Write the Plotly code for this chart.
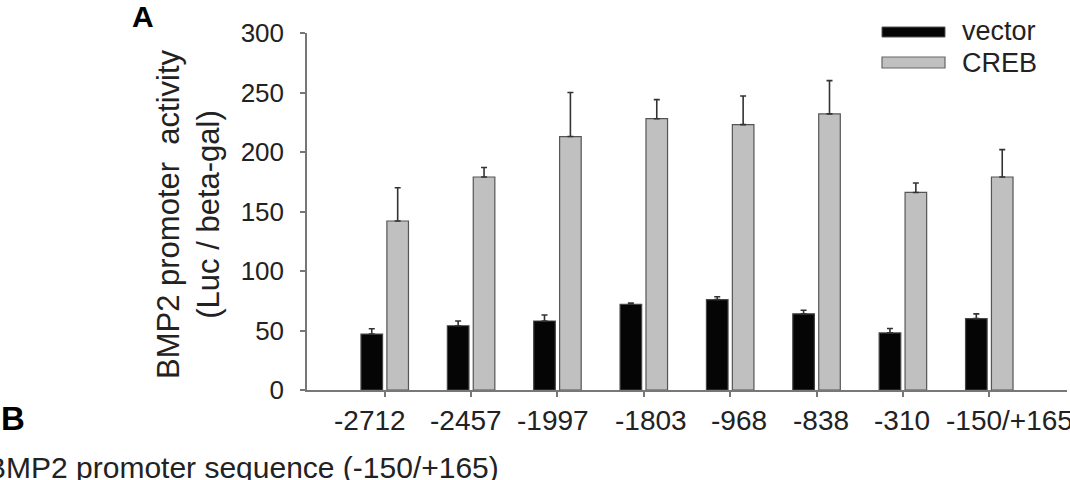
import plotly.graph_objects as go

categories = ["-2712", "-2457", "-1997", "-1803", "-968", "-838", "-310", "-150/+165"]
vector = [47, 54, 58, 72, 76, 64, 48, 60]
vector_err = [4.5, 4, 5, 1, 2.3, 3, 3.7, 4]
creb = [142, 179, 213, 228, 223, 232, 166, 179]
creb_err = [28, 8, 37, 16, 24, 28, 8, 23]
y_ticks = [0, 50, 100, 150, 200, 250, 300]

# horizontal offsets (px) of the category labels relative to their ticks, as in the original figure
label_shift = [-15, -5, -4, 7, 9, 4, -1, 20]

FONT = "Liberation Sans, Arial, sans-serif"
W, H = 1070, 480
L, R, T, B = 307, 3, 33, 90
PW, PH = W - L - R, H - T - B


def px(x):
    return (x - L) / PW


def py(y):
    return (H - B - y) / PH


fig = go.Figure()
fig.add_trace(go.Bar(
    x=categories, y=vector, name="vector",
    marker=dict(color="#050505", line=dict(color="#444444", width=1.2)),
    error_y=dict(type="data", array=vector_err, symmetric=False, arrayminus=[0] * len(vector_err),
                 color="#333333", thickness=1.6, width=3),
))
fig.add_trace(go.Bar(
    x=categories, y=creb, name="CREB",
    marker=dict(color="#c0c0c0", line=dict(color="#555555", width=1.2)),
    error_y=dict(type="data", array=creb_err, symmetric=False, arrayminus=[0] * len(creb_err),
                 color="#333333", thickness=1.6, width=3),
))

# custom legend (wide swatches)
shapes = [
    dict(type="rect", xref="paper", yref="paper", x0=px(882), x1=px(945), y0=py(37), y1=py(27),
         fillcolor="#050505", line=dict(color="#555555", width=1)),
    dict(type="rect", xref="paper", yref="paper", x0=px(882), x1=px(945), y0=py(68), y1=py(57),
         fillcolor="#c0c0c0", line=dict(color="#666666", width=1.2)),
]
annotations = [
    dict(text="vector", xref="paper", yref="paper", x=px(960), y=py(31), xanchor="left", yanchor="middle",
         showarrow=False, font=dict(family=FONT, size=27, color="#222222")),
    dict(text="CREB", xref="paper", yref="paper", x=px(960), y=py(63), xanchor="left", yanchor="middle",
         showarrow=False, font=dict(family=FONT, size=27, color="#222222")),
    dict(text="BMP2 promoter  activity<br>(Luc / beta-gal)", xref="paper", yref="paper",
         x=px(188), y=py(214), xanchor="center", yanchor="middle", textangle=-90,
         showarrow=False, font=dict(family=FONT, size=31, color="#222222")),
    dict(text="<b>A</b>", xref="paper", yref="paper", x=px(143), y=py(17), xanchor="center", yanchor="middle",
         showarrow=False, font=dict(family=FONT, size=30, color="#000000")),
    dict(text="<b>B</b>", xref="paper", yref="paper", x=px(13), y=py(418), xanchor="center", yanchor="middle",
         showarrow=False, font=dict(family=FONT, size=33, color="#000000")),
    dict(text="BMP2 promoter sequence (-150/+165)", xref="paper", yref="paper", x=px(-16), y=py(467),
         xanchor="left", yanchor="middle",
         showarrow=False, font=dict(family=FONT, size=30, color="#222222")),
]
for i, (cat, shift) in enumerate(zip(categories, label_shift)):
    annotations.append(dict(
        text=cat, xref="x", yref="paper", x=i, y=py(420), xshift=shift,
        xanchor="center", yanchor="middle", showarrow=False,
        font=dict(family=FONT, size=28, color="#222222"),
    ))

fig.update_layout(
    width=W, height=H,
    margin=dict(l=L, r=R, t=T, b=B, pad=0, autoexpand=False),
    plot_bgcolor="white", paper_bgcolor="white",
    barmode="group", bargap=0.4, bargroupgap=0.167,
    showlegend=False,
    shapes=shapes, annotations=annotations,
    font=dict(family=FONT, color="#222222"),
)
fig.update_xaxes(
    type="category",
    range=[-0.9, len(categories) - 0.1], showgrid=False, zeroline=False, automargin=False,
    showline=True, linecolor="#777777", linewidth=1.5, showticklabels=False,
    ticks="outside", ticklen=5, tickcolor="#777777", tickwidth=1.5,
)
fig.update_yaxes(
    range=[0, 300], tickvals=y_ticks, showgrid=False, zeroline=False, automargin=False,
    showline=True, linecolor="#777777", linewidth=1.5,
    ticks="outside", ticklen=5, tickcolor="#777777", tickwidth=1.5,
    tickfont=dict(family=FONT, size=26, color="#222222"), ticklabelstandoff=11,
)

fig.write_html("out.html")
